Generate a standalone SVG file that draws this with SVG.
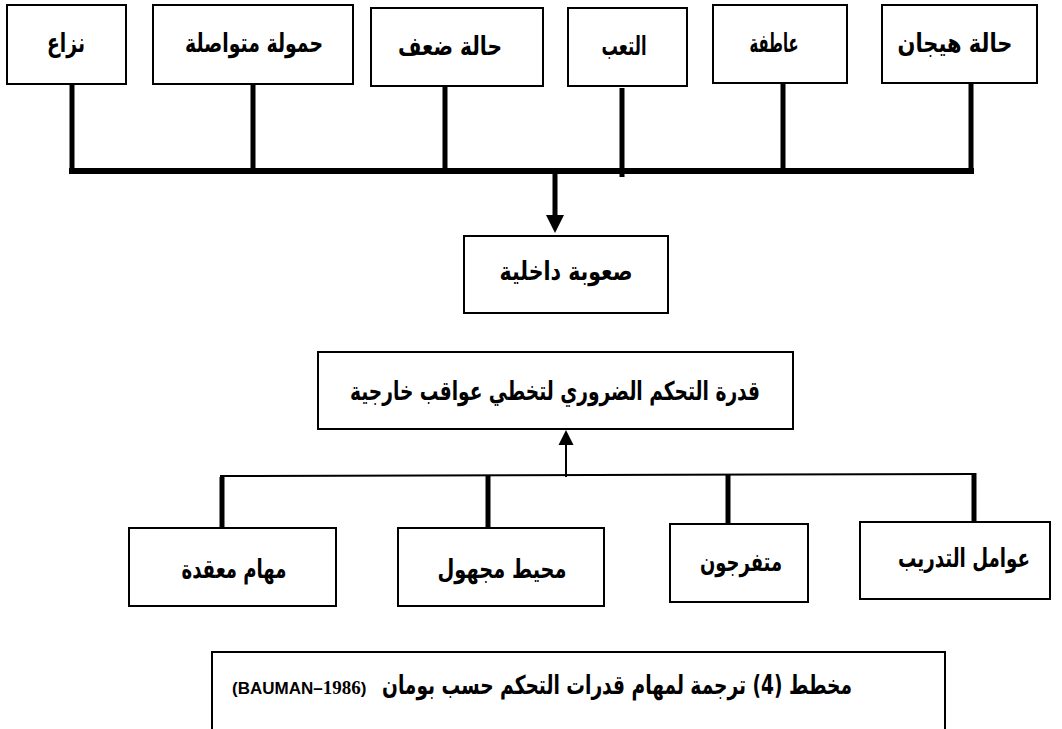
<svg xmlns="http://www.w3.org/2000/svg" width="1062" height="729" viewBox="0 0 1062 729">
<style>
.box{fill:#fff;stroke:#000;stroke-width:2}
.t{font-family:"DejaVu Sans",sans-serif;font-weight:bold;font-size:26px;fill:#000;text-anchor:middle;direction:rtl}
.lat{font-family:"Liberation Sans",Arial,sans-serif;font-weight:bold;font-size:17px;fill:#000;direction:ltr;text-anchor:start}
.thick{stroke:#000;stroke-width:5;fill:none}
.thin{stroke:#000;stroke-width:2;fill:none}
</style>
<rect width="1062" height="729" fill="#fff"/>
<g id="connectors">
<line class="thick" x1="72" y1="84" x2="72" y2="174"/>
<line class="thick" x1="253" y1="84" x2="253" y2="172"/>
<line class="thick" x1="445" y1="86" x2="445" y2="172"/>
<line class="thick" x1="622" y1="88" x2="622" y2="177"/>
<line class="thick" x1="783" y1="80" x2="783" y2="172"/>
<line class="thick" x1="971" y1="82" x2="971" y2="174"/>
<line stroke="#000" stroke-width="6" x1="69" y1="171" x2="974" y2="171"/>
<line class="thick" x1="555" y1="171" x2="555" y2="216"/>
<polygon points="546,215 564,215 555,233"/>
<line class="thin" x1="220" y1="476" x2="976" y2="474"/>
<line class="thick" x1="222" y1="477" x2="222" y2="528"/>
<line class="thick" x1="488" y1="476" x2="488" y2="528"/>
<line class="thick" x1="728" y1="475" x2="728" y2="524"/>
<line class="thick" x1="974" y1="473" x2="974" y2="522"/>
<line class="thin" x1="566" y1="477" x2="566" y2="443"/>
<polygon points="558.5,445 573.5,445 566,430"/>
</g>
<g id="n1"><rect class="box" x="7" y="5" width="119" height="79"/><text class="t" x="66" y="52" textLength="38" lengthAdjust="spacingAndGlyphs">نزاع</text></g>
<g id="n2"><rect class="box" x="153" y="5" width="200" height="79"/><text class="t" x="254" y="52" textLength="138" lengthAdjust="spacingAndGlyphs">حمولة متواصلة</text></g>
<g id="n3"><rect class="box" x="371" y="8" width="172" height="78"/><text class="t" x="450" y="55" textLength="104" lengthAdjust="spacingAndGlyphs">حالة ضعف</text></g>
<g id="n4"><rect class="box" x="568" y="8" width="119" height="78"/><text class="t" x="624" y="55" textLength="45" lengthAdjust="spacingAndGlyphs">التعب</text></g>
<g id="n5"><rect class="box" x="713" y="5" width="134" height="78"/><text class="t" x="774" y="52" textLength="49" lengthAdjust="spacingAndGlyphs">عاطفة</text></g>
<g id="n6"><rect class="box" x="882" y="5" width="155" height="78"/><text class="t" x="955" y="52" textLength="115" lengthAdjust="spacingAndGlyphs">حالة هيجان</text></g>
<g id="n7"><rect class="box" x="464" y="236" width="204" height="77"/><text class="t" x="566" y="280" textLength="133" lengthAdjust="spacingAndGlyphs">صعوبة داخلية</text></g>
<g id="n8"><rect class="box" x="318" y="352" width="475" height="77"/><text class="t" x="555" y="400" textLength="410" lengthAdjust="spacingAndGlyphs">قدرة التحكم الضروري لتخطي عواقب خارجية</text></g>
<g id="n9"><rect class="box" x="129" y="528" width="207" height="78"/><text class="t" x="234" y="578" textLength="105" lengthAdjust="spacingAndGlyphs">مهام معقدة</text></g>
<g id="n10"><rect class="box" x="398" y="528" width="206" height="78"/><text class="t" x="502" y="578" textLength="129" lengthAdjust="spacingAndGlyphs">محيط مجهول</text></g>
<g id="n11"><rect class="box" x="670" y="524" width="138" height="78"/><text class="t" x="741" y="571" textLength="82" lengthAdjust="spacingAndGlyphs">متفرجون</text></g>
<g id="n12"><rect class="box" x="860" y="522" width="190" height="77"/><text class="t" x="964" y="567" font-size="23px" textLength="132" lengthAdjust="spacingAndGlyphs">عوامل التدريب</text></g>
<g id="caption"><rect class="box" x="212" y="652" width="733" height="100"/>
<text class="t" x="617" y="694" textLength="470" lengthAdjust="spacingAndGlyphs">مخطط (4) ترجمة لمهام قدرات التحكم حسب بومان</text>
<text class="lat" x="232" y="694">(BAUMAN–<tspan font-family="Liberation Serif" font-size="19px">1986</tspan>)</text></g>
</svg>
